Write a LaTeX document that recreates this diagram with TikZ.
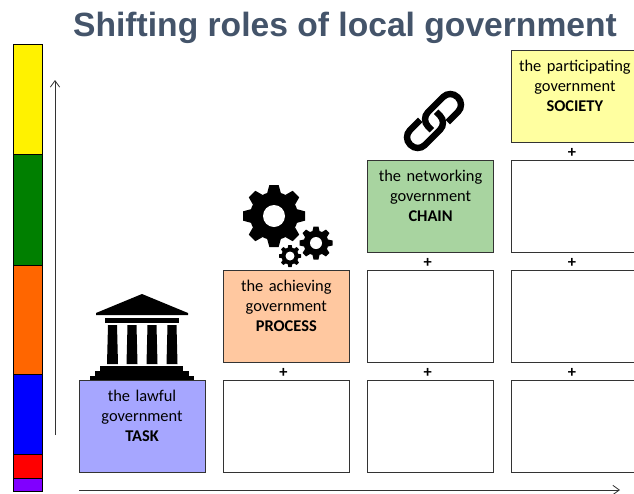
\documentclass[tikz,border=0pt]{standalone}
\usepackage{fontspec}
\setmainfont{Carlito}
\newfontfamily\titlefont{Liberation Sans}
\usetikzlibrary{positioning,calc,arrows.meta}
\definecolor{titleblue}{HTML}{44546A}
\definecolor{lawfulblue}{HTML}{A6A6FF}
\definecolor{peach}{HTML}{FFC8A0}
\definecolor{leaf}{HTML}{A8D4A0}
\definecolor{lemon}{HTML}{FFFFA0}
\definecolor{bandgreen}{HTML}{007F00}
\definecolor{bandorange}{HTML}{FF6600}
\definecolor{bandpurple}{HTML}{8000FF}
\tikzstyle{etape} = [draw=black!80, thick, text width=3.6cm, align=center, minimum width=3.78cm,
  minimum height=2.76cm, inner sep=0pt, font=\fontsize{14}{17.4}\selectfont]
\tikzstyle{band} = [draw=black, minimum width=0.88cm, inner sep=0pt, outer sep=0pt]
\tikzstyle{plus} = [inner sep=0pt, xshift=-2.5pt, yshift=-1.7pt, font=\fontsize{14}{14}\selectfont\bfseries]
\tikzstyle{line} = [draw, color=black!80, line width=0.7pt, -{Straight Barb[length=5.5pt,width=8pt]}]
\newcommand{\etape}[3]{node (p#1)[etape,fill=#2]{#3}}
\newcommand{\plusnode}[2]{\path (p#1.north) -- (p#2.south) node[midway,plus] (s#1) {+};}
% gear: x, y, outer radius, root radius, hole radius, teeth
\newcommand{\gear}[6]{%
\begin{scope}[shift={(#1,#2)}]
  \fill[black] (0,0) circle [radius=#4];
  \foreach \a in {1,...,#6}
    \fill[black,rotate=\a*360/#6] (#4-1,-#3*0.22) -- (#3,-#3*0.15) -- (#3,#3*0.15) -- (#4-1,#3*0.22) -- cycle;
  \fill[white] (0,0) circle [radius=#5];
\end{scope}}

\begin{document}
\begin{tikzpicture}[x=0.03cm,y=-0.03cm]
  \useasboundingbox (0,0) rectangle (634,493);

  \node (title) at (345,28) {\titlefont\bfseries\fontsize{28.7}{28.7}\selectfont\color{titleblue}Shifting roles of local government};

  % Colour bar
  \node (b1) at (28,99) [band,minimum height=3.3cm,fill=yellow] {};
  \node (b2) [band,below=0pt of b1,minimum height=3.33cm,fill=bandgreen] {};
  \node (b3) [band,below=0pt of b2,minimum height=3.27cm,fill=bandorange] {};
  \node (b4) [band,below=0pt of b3,minimum height=2.4cm,fill=blue] {};
  \node (b5) [band,below=0pt of b4,minimum height=0.72cm,fill=red] {};
  \node (b6) [band,below=0pt of b5,minimum height=0.39cm,fill=bandpurple] {};

  % Axes
  \coordinate (y0) at (55,435);
  \coordinate (y1) at (55,80);
  \coordinate (x0) at (79,490);
  \coordinate (x1) at (620,490);
  \path [line] (y0) -- (y1);
  \path [line] (x0) -- (x1);

  % Draw diagram elements
  \path (142,426) \etape{1}{lawfulblue}{the lawful\\government\\\textbf{TASK}\\~};
  \path (p1)+(144.3,0) \etape{2}{white}{};
  \path (p2)+(144.3,0) \etape{3}{white}{};
  \path (p3)+(144.3,0) \etape{4}{white}{};
  \path (p2)+(0,-110) \etape{5}{peach}{the achieving\\government\\\textbf{PROCESS}\\~};
  \path (p5)+(144.3,0) \etape{6}{white}{};
  \path (p6)+(144.3,0) \etape{7}{white}{};
  \path (p6)+(0,-110) \etape{8}{leaf}{the networking\\government\\\textbf{CHAIN}\\~};
  \path (p8)+(144.3,0) \etape{9}{white}{};
  \path (p9)+(0,-110) \etape{10}{lemon}{the participating\\government\\\textbf{SOCIETY}\\~};

  % Plus signs between the rows
  \plusnode{2}{5}
  \plusnode{3}{6}
  \plusnode{4}{7}
  \plusnode{6}{8}
  \plusnode{7}{9}
  \plusnode{9}{10}

  % Temple
  \fill (142,294) -- (188,313) -- (188,315) -- (96,315) -- (96,313) -- cycle;
  \fill (105,318) rectangle (179,322.5);
  \foreach \c in {112.5,132,152,172}
    \fill (\c-4.5,325) -- (\c+4.5,325) -- (\c+5.5,364) -- (\c-5.5,364) -- cycle;
  \fill (100,366) rectangle (183,371);
  \fill (95,371) rectangle (189,375.5);
  \fill (90,375.5) rectangle (194,380);

  % Gears
  \gear{274}{216}{31}{24}{11}{8}
  \gear{316}{243}{16.5}{12.5}{6}{8}
  \gear{290}{256}{11}{8.5}{4.5}{8}

  % Chain
  \begin{scope}[shift={(434,121)},rotate=45]
    \draw[line width=5.5pt,rounded corners=8.5pt] (9,10.5) -- (33.5,10.5) -- (33.5,-10.5) -- (-8,-10.5) -- (-8,5);
    \draw[line width=5.5pt,rounded corners=8.5pt,rotate=180] (9,10.5) -- (33.5,10.5) -- (33.5,-10.5) -- (-8,-10.5) -- (-8,5);
  \end{scope}
\end{tikzpicture}
\end{document}
